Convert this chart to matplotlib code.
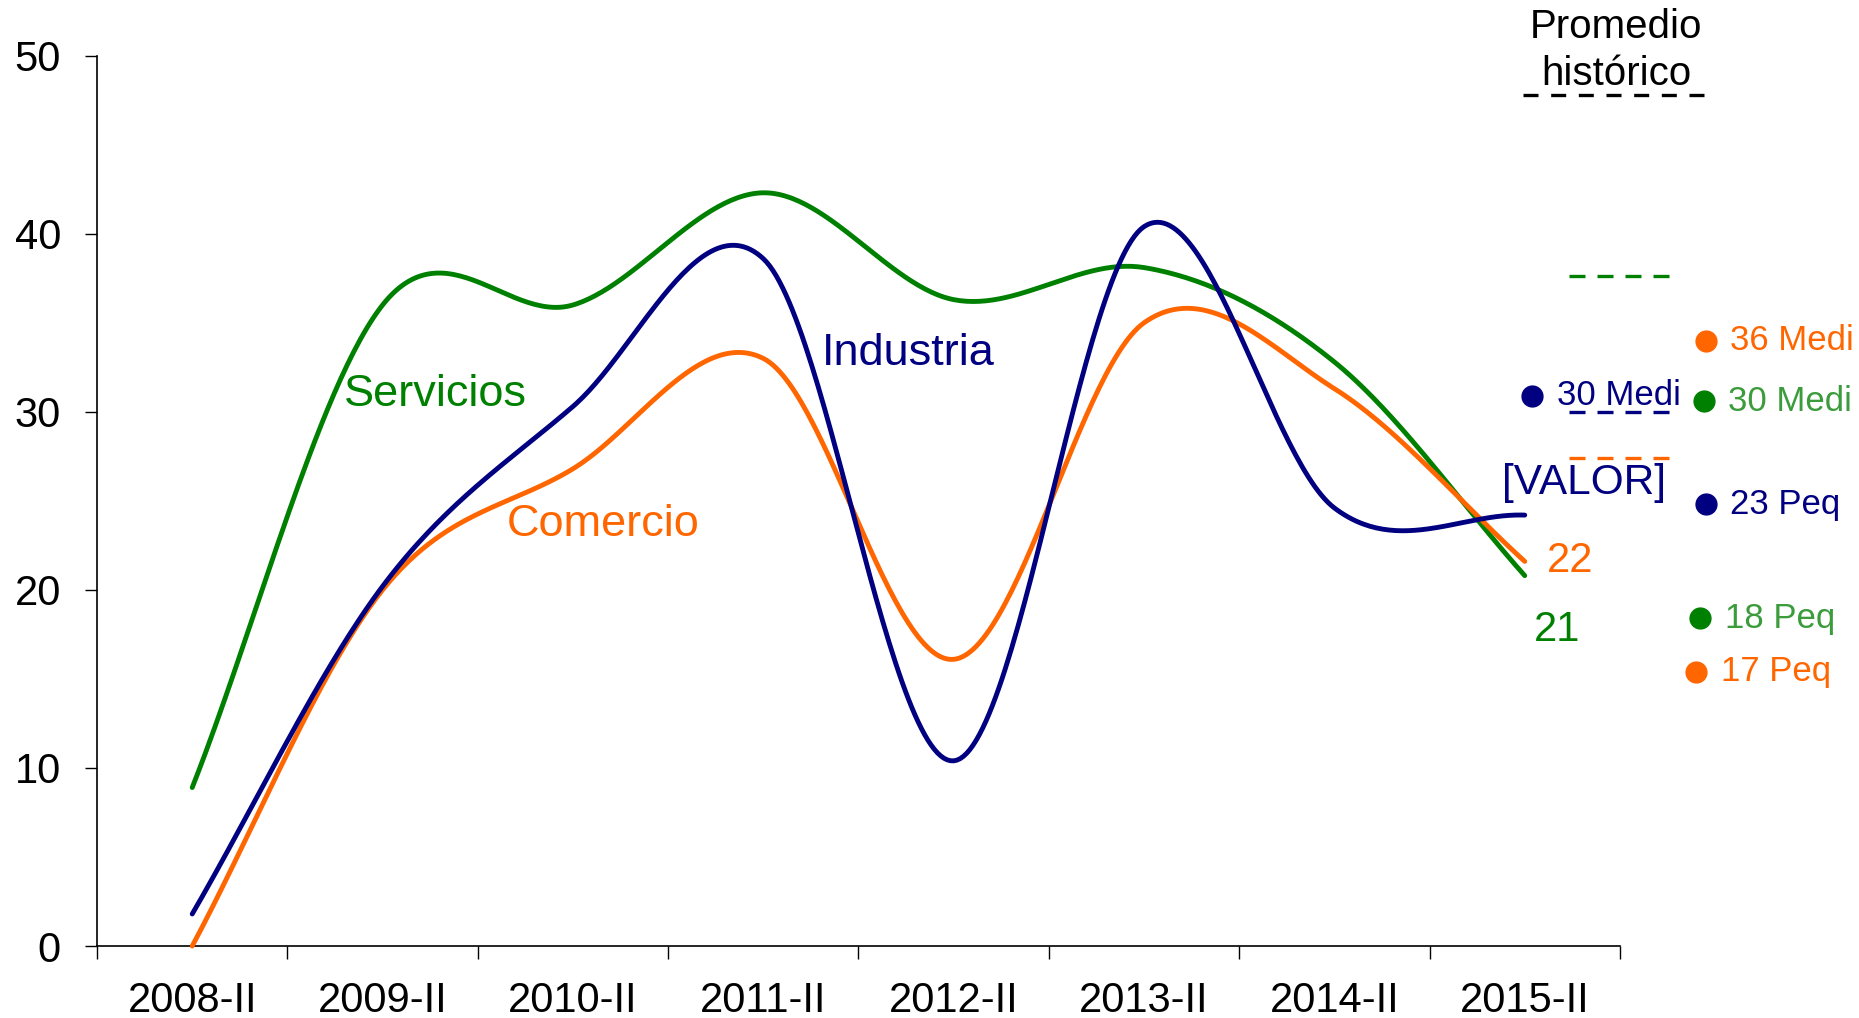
import numpy as np
import matplotlib.pyplot as plt

plt.rcParams['font.family'] = ['Liberation Sans', 'DejaVu Sans']

# Datos
periodos = ['2008-II', '2009-II', '2010-II', '2011-II', '2012-II', '2013-II', '2014-II', '2015-II']
industria = [1.8, 20.2, 30.3, 38.6, 10.4, 40.4, 24.6, 24.2]
comercio = [0.0, 20.0, 26.8, 33.0, 16.1, 35.0, 31.3, 21.6]
servicios = [8.9, 36.0, 36.0, 42.3, 36.3, 38.1, 32.8, 20.8]

# Promedio historico por sector
prom_sectores = ['Servicios', 'Industria', 'Comercio']
prom_valores = [37.6, 30.0, 27.4]

# Valores por tamano de empresa
tam_textos = ['30 Medi', '36 Medi', '30 Medi', '23 Peq', '18 Peq', '17 Peq']

AZUL = '#000080'
NARANJA = '#FF6600'
VERDE = '#008000'
VERDE_TXT = '#3C9C3C'


# Suavizado tipo Excel (Catmull-Rom, extremos reflejados)
def suavizar(y, n=60):
    y = np.asarray(y, dtype=float)
    p = np.concatenate([[2 * y[0] - y[1]], y, [2 * y[-1] - y[-2]]])
    t = np.linspace(0, 1, n)
    h00 = 2 * t**3 - 3 * t**2 + 1
    h10 = t**3 - 2 * t**2 + t
    h01 = -2 * t**3 + 3 * t**2
    h11 = t**3 - t**2
    xs, ys = [], []
    for i in range(len(y) - 1):
        p0, p1, p2, p3 = p[i], p[i + 1], p[i + 2], p[i + 3]
        m1 = (p2 - p0) / 2
        m2 = (p3 - p1) / 2
        xs.append(i + t)
        ys.append(h00 * p1 + h10 * m1 + h01 * p2 + h11 * m2)
    return np.concatenate(xs), np.concatenate(ys)


fig = plt.figure(figsize=(18.59, 10.18), dpi=100)
ax = fig.add_axes([0.0522, 0.0707, 0.8192, 0.8746])

for serie, color in [(servicios, VERDE), (comercio, NARANJA), (industria, AZUL)]:
    xs, ys = suavizar(serie)
    ax.plot(xs, ys, color=color, linewidth=3.5, solid_capstyle='round', clip_on=False, zorder=3)

ax.set_xlim(-0.5, len(periodos) - 0.5)
ax.set_ylim(0, 50)
ax.set_yticks(range(0, 51, 10))
ax.set_xticks(range(len(periodos)))
ax.set_xticklabels(periodos)
ax.set_xticks(np.arange(-0.5, len(periodos), 1), minor=True)

for s in ['top', 'right']:
    ax.spines[s].set_visible(False)
for s in ['left', 'bottom']:
    ax.spines[s].set_linewidth(1.2)

ax.tick_params(axis='y', direction='out', length=9, width=1, pad=17, labelsize=30)
ax.tick_params(axis='x', which='major', length=0, pad=25, labelsize=30)
ax.tick_params(axis='x', which='minor', direction='out', length=9, width=1)

# Etiquetas de series
ax.text(3.76, 33.3, 'Industria', color=AZUL, fontsize=32.5, ha='center', va='center')
ax.text(1.28, 31.0, 'Servicios', color=VERDE, fontsize=32.5, ha='center', va='center')
ax.text(2.16, 23.7, 'Comercio', color=NARANJA, fontsize=32.5, ha='center', va='center')

# Valores finales
ax.text(7.31, 26.0, '[VALOR]', color=AZUL, fontsize=30.5, ha='center', va='center', clip_on=False)
ax.text(7.24, 21.65, f'{comercio[-1]:.0f}', color=NARANJA, fontsize=30, ha='center', va='center', clip_on=False)
ax.text(7.17, 17.75, f'{servicios[-1]:.0f}', color=VERDE, fontsize=30, ha='center', va='center', clip_on=False)

# Promedio historico
ax.text(7.48, 51.0, 'Promedio', color='black', fontsize=29, ha='center', va='baseline', clip_on=False)
ax.text(7.48, 48.37, 'histórico', color='black', fontsize=29, ha='center', va='baseline', clip_on=False)
ax.plot([6.99, 7.955], [47.8, 47.8], color='black', linewidth=2.4, dashes=(4.5, 3.8), clip_on=False)
for sector, valor, color in zip(prom_sectores, prom_valores, [VERDE, AZUL, NARANJA]):
    ax.plot([7.235, 7.76], [valor, valor], color=color, linewidth=2.4, dashes=(4.8, 3.6),
            clip_on=False, zorder=4)

# Empresas medianas y pequenas
pos_puntos = [(7.04, 30.9), (7.95, 34.0), (7.94, 30.6), (7.95, 24.8), (7.92, 18.4), (7.90, 15.4)]
col_puntos = [AZUL, NARANJA, VERDE, AZUL, VERDE, NARANJA]
col_textos = [AZUL, NARANJA, VERDE_TXT, AZUL, VERDE_TXT, NARANJA]
for (px, py), texto, cp, ct in zip(pos_puntos, tam_textos, col_puntos, col_textos):
    ax.plot(px, py, 'o', color=cp, markersize=15, clip_on=False)
    ax.text(px + 0.13, py, texto, color=ct, fontsize=25, ha='left', va='center', clip_on=False)

fig.savefig('out.png', dpi=100)
